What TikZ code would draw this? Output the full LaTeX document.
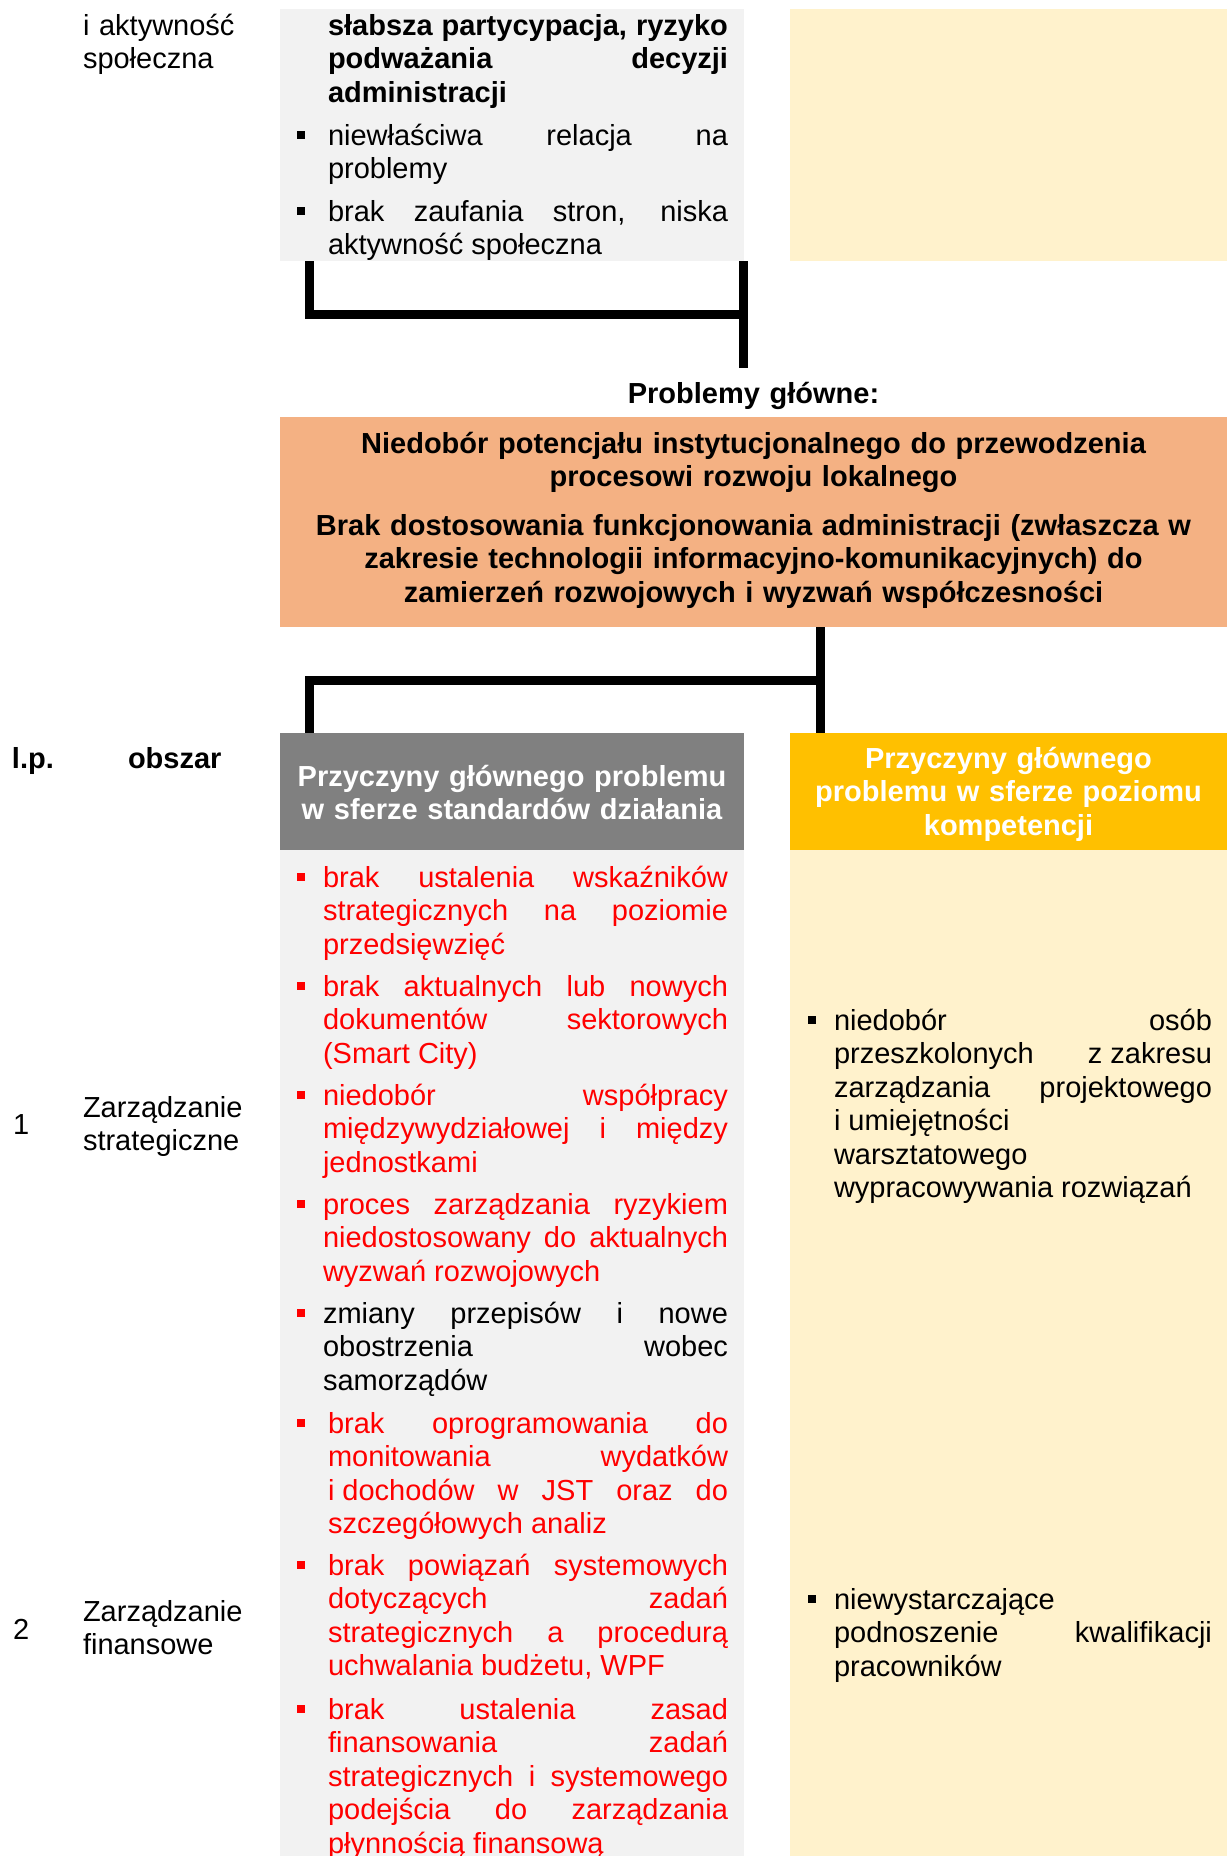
\documentclass[tikz,border=0pt]{standalone}
\usepackage{fontspec}
\setmainfont{Liberation Sans}
\definecolor{lgray}{HTML}{F2F2F2}
\definecolor{beige}{HTML}{FFF2CC}
\definecolor{orng}{HTML}{F4B183}
\definecolor{dgray}{HTML}{808080}
\definecolor{yel}{HTML}{FFC000}
\definecolor{myred}{HTML}{FF0000}
\newcommand\fs{\fontsize{29pt}{33.5pt}\selectfont}
\hyphenpenalty=10000
\exhyphenpenalty=10000
\tolerance=10000
\newcommand\bul[3]{\fill[#1] ([xshift=#2,yshift=6pt]#3.base west) rectangle ++(8pt,8pt);}
\tikzset{
  box/.style={draw=none, inner sep=0pt, outer sep=0pt, anchor=north west},
  conn/.style={line width=9pt, line join=miter},
  txt/.style={anchor=base west, inner sep=0pt, outer sep=0pt, align=justify, font=\fs},
  ctr/.style={anchor=base, inner sep=0pt, outer sep=0pt, align=center, font=\fs\bfseries},
  lbl/.style={anchor=base west, inner sep=0pt, outer sep=0pt, align=left, font=\fs, text width=200pt},
}
\begin{document}
\begin{tikzpicture}[x=1pt,y=-1pt]
\useasboundingbox (0,0) rectangle (1227,1856);
% boxes
\node[box, fill=lgray, minimum width=464pt, minimum height=252pt] (topgray) at (280,9) {};
\node[box, fill=beige, minimum width=437pt, minimum height=252pt] (topbeige) at (790,9) {};
\node[box, fill=orng, minimum width=947pt, minimum height=210pt] (orange) at (280,417) {};
\node[box, fill=dgray, minimum width=464pt, minimum height=117pt] (grayhead) at (280,733) {};
\node[box, fill=yel, minimum width=437pt, minimum height=117pt] (yelhead) at (790,733) {};
\node[box, fill=lgray, minimum width=464pt, minimum height=1006pt] (graybody) at (280,850) {};
\node[box, fill=beige, minimum width=437pt, minimum height=1006pt] (beigebody) at (790,850) {};

% connectors
\coordinate (pgtop) at (743.5,368);
\coordinate (j1) at (743.5,314.5);
\coordinate (c2) at ([xshift=30.5pt]yelhead.north west);
\coordinate (c3) at ([xshift=29.5pt]grayhead.north west);
\coordinate (j2) at (820.5,680.5);
\draw[conn] ([xshift=29.5pt]topgray.south west) |- (j1);
\draw[conn] ([xshift=-0.5pt]topgray.south east) -- (pgtop);
\draw[conn] (c2 |- orange.south) -- (c2);
\draw[conn] (j2) -| (c3);

% left column
\node[lbl] (ak) at (83,35) {i aktywność\\społeczna};
\node[lbl, font=\fs\bfseries, text width=80pt] (lp) at (12,768) {l.p.};
\node[lbl, font=\fs\bfseries, text width=120pt] (obs) at (128,768) {obszar};
\node[lbl, text width=40pt] (n1) at (13,1134) {1};
\node[lbl] (zs) at (83,1117) {Zarządzanie\\strategiczne};
\node[lbl, text width=40pt] (n2) at (13,1639) {2};
\node[lbl] (zf) at (83,1621) {Zarządzanie\\finansowe};

% top gray box texts
\node[txt, text width=400pt, font=\fs\bfseries] (t0) at (328,35) {słabsza partycypacja, ryzyko\break podważania decyzji\break administracji};
\node[txt, text width=400pt] (t1) at (328,145) {niewłaściwa relacja na\break problemy};
\bul{black}{-31pt}{t1}
\node[txt, text width=400pt] (t2) at (328,221) {brak zaufania stron, niska\break aktywność społeczna};
\bul{black}{-31pt}{t2}

% main problems
\node[ctr, text width=400pt] (pg) at (753.5,403) {Problemy główne:};
\node[ctr, text width=940pt] (pm1) at (753.5,453) {Niedobór potencjału instytucjonalnego do przewodzenia\\procesowi rozwoju lokalnego};
\node[ctr, text width=940pt] (pm2) at (753.5,535) {Brak dostosowania funkcjonowania administracji (zwłaszcza w\\zakresie technologii informacyjno-komunikacyjnych) do\\zamierzeń rozwojowych i wyzwań współczesności};

% headers
\node[ctr, text width=450pt, text=white] (h1) at (512,786) {Przyczyny głównego problemu\\w sferze standardów działania};
\node[ctr, text width=430pt, text=white] (h2) at (1008.5,768) {Przyczyny głównego\\problemu w sferze poziomu\\kompetencji};

% red list
\node[txt, text width=405pt, text=myred] (r1) at (323,887) {brak ustalenia wskaźników\break strategicznych na poziomie\break przedsięwzięć};
\bul{myred}{-26pt}{r1}
\node[txt, text width=405pt, text=myred] (r2) at (323,996) {brak aktualnych lub nowych\break dokumentów sektorowych\break (Smart City)};
\bul{myred}{-26pt}{r2}
\node[txt, text width=405pt, text=myred] (r3) at (323,1105) {niedobór współpracy\break międzywydziałowej i między\break jednostkami};
\bul{myred}{-26pt}{r3}
\node[txt, text width=405pt, text=myred] (r4) at (323,1214) {proces zarządzania ryzykiem\break niedostosowany do aktualnych\break wyzwań rozwojowych};
\bul{myred}{-26pt}{r4}
\node[txt, text width=405pt] (r5) at (323,1323) {zmiany przepisów i nowe\break obostrzenia wobec\break samorządów};
\bul{myred}{-26pt}{r5}
\node[txt, text width=400pt, text=myred] (r6) at (328,1433) {brak oprogramowania do\break monitowania wydatków\break \mbox{i dochodów} w JST oraz do\break szczegółowych analiz};
\bul{myred}{-31pt}{r6}
\node[txt, text width=400pt, text=myred] (r7) at (328,1575) {brak powiązań systemowych\break dotyczących zadań\break strategicznych a procedurą\break uchwalania budżetu, WPF};
\bul{myred}{-31pt}{r7}
\node[txt, text width=400pt, text=myred] (r8) at (328,1719) {brak ustalenia zasad\break finansowania zadań\break strategicznych i systemowego\break podejścia do zarządzania\break płynnością finansową};
\bul{myred}{-31pt}{r8}

% right column
\node[txt, text width=378pt] (k1) at (834,1030) {niedobór osób\break przeszkolonych \mbox{z zakresu}\break zarządzania projektowego\break i umiejętności\hfil\break warsztatowego\hfil\break wypracowywania rozwiązań};
\bul{black}{-26pt}{k1}
\node[txt, text width=378pt] (k2) at (834,1609) {niewystarczające\hfil\break podnoszenie kwalifikacji\break pracowników};
\bul{black}{-26pt}{k2}
\end{tikzpicture}
\end{document}
